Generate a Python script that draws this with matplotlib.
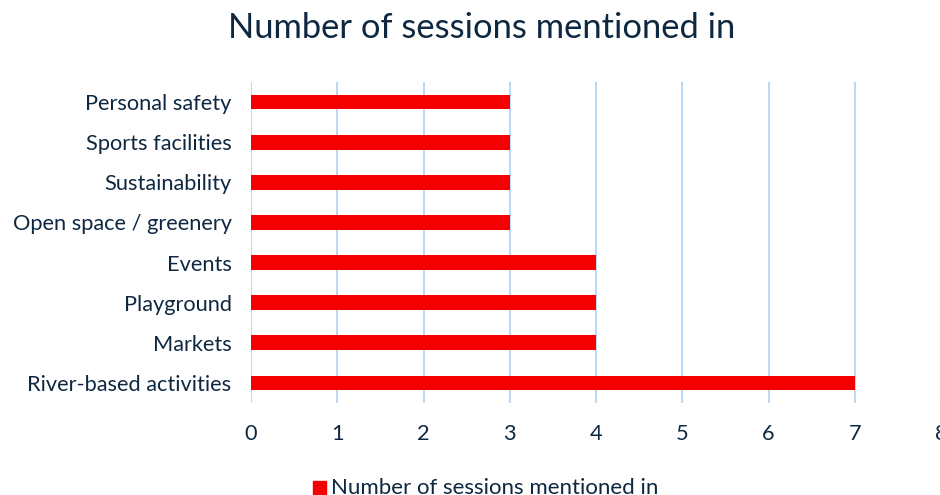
import matplotlib
matplotlib.use("Agg")
import matplotlib.pyplot as plt
from matplotlib.patches import Rectangle

# Dados do gráfico
categorias = ["River-based activities", "Markets", "Playground", "Events",
              "Open space / greenery", "Sustainability", "Sports facilities",
              "Personal safety"]
sessoes = [7, 4, 4, 4, 3, 3, 3, 3]
ticks_x = [0, 1, 2, 3, 4, 5, 6, 7, 8]
titulo = "Number of sessions mentioned in"

cor_barra = "#F40000"
cor_texto = "#0E2841"
cor_grade = "#BDD9F5"

plt.rcParams["font.family"] = ["Lato", "DejaVu Sans"]

fig = plt.figure(figsize=(9.4, 4.95), dpi=100)
ax = fig.add_axes([251 / 940, 1 - 403 / 495, 690 / 940, 321 / 495])

ax.barh(range(len(categorias)), sessoes, height=0.37, color=cor_barra, zorder=3)
ax.set_xlim(0, 8)
ax.set_ylim(-0.5, len(categorias) - 0.5)
ax.set_xticks(ticks_x)
ax.set_yticks(range(len(categorias)))
ax.set_yticklabels(categorias)
ax.grid(axis="x", color=cor_grade, linewidth=1.5, zorder=0)
ax.tick_params(axis="both", length=0, labelsize=15.7, colors=cor_texto)
ax.tick_params(axis="x", pad=15)
ax.tick_params(axis="y", pad=14)
for s in ax.spines.values():
    s.set_visible(False)

fig.text(482 / 940, 1 - 28 / 495, titulo, ha="center", va="center",
         fontsize=24.8, color=cor_texto)

# Legenda na parte de baixo (cortada como no original)
fig.patches.append(Rectangle((313 / 940, 1 - 494 / 495), 13 / 940, 13 / 495,
                             transform=fig.transFigure, color=cor_barra))
fig.text(331 / 940, 1 - 488 / 495, titulo, ha="left", va="center",
         fontsize=16, color=cor_texto)

fig.savefig("out.png", dpi=100)
